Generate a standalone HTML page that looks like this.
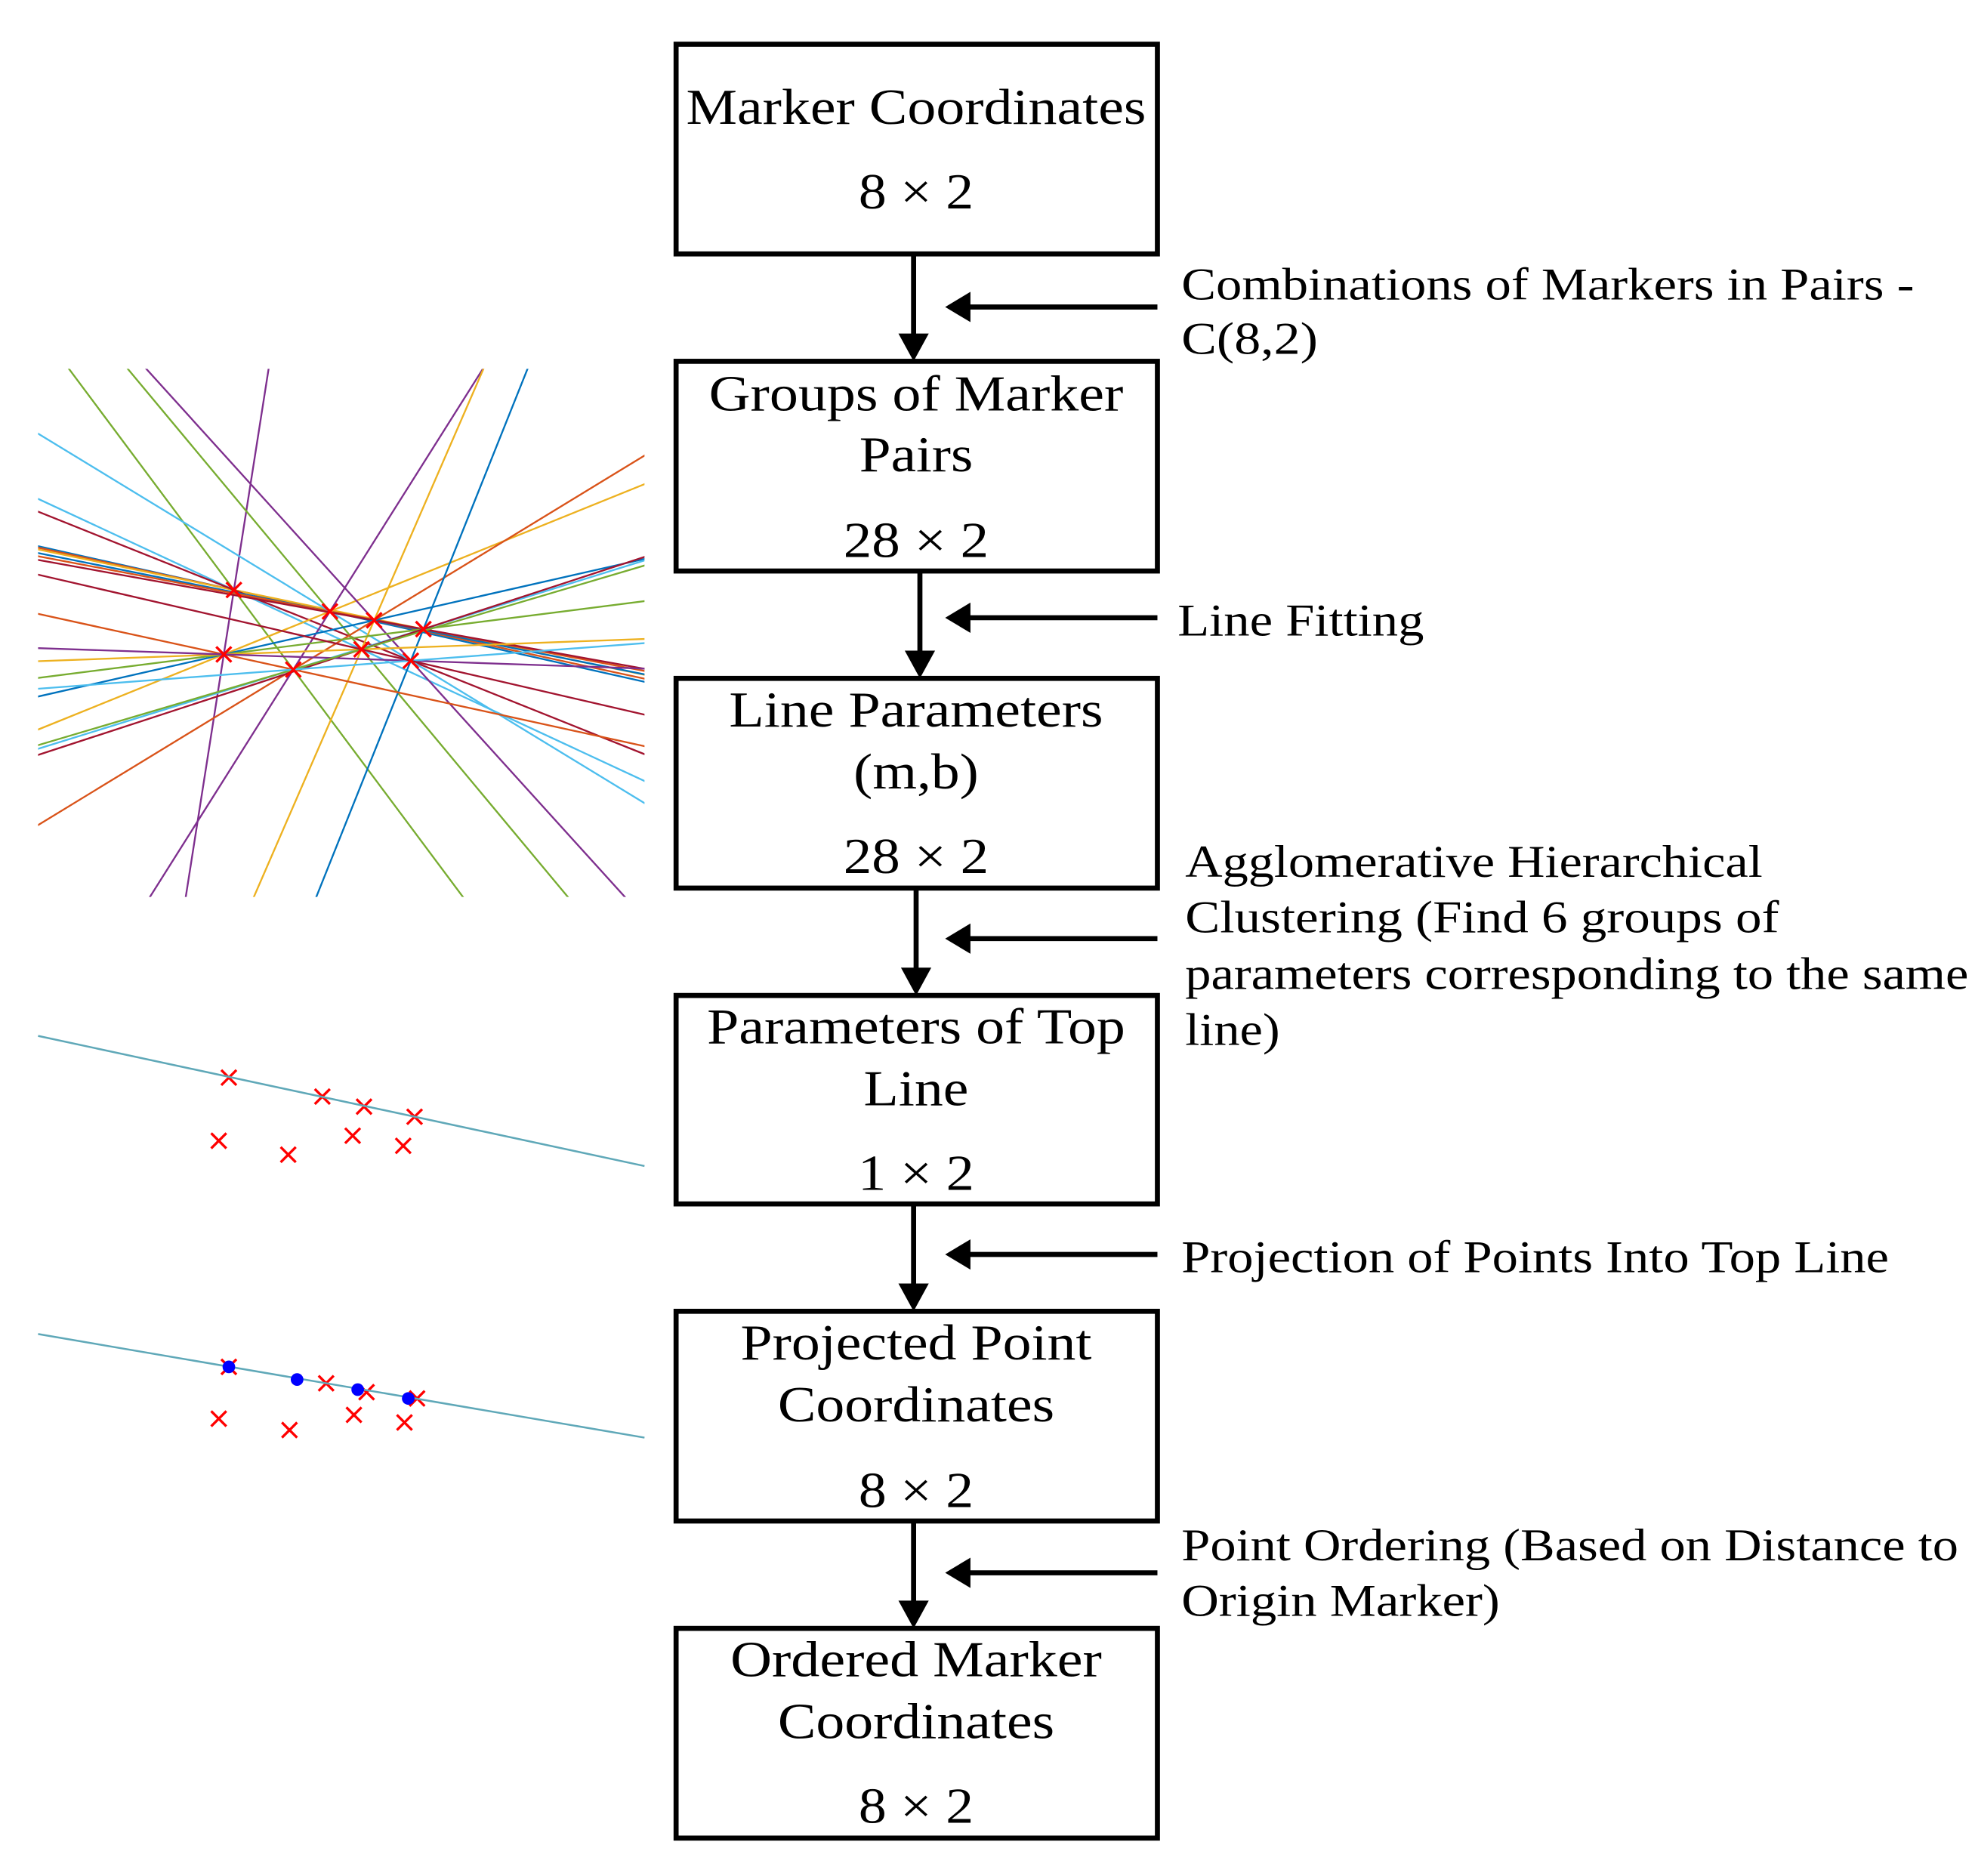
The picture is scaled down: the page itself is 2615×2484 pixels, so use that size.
<!DOCTYPE html>
<html><head><meta charset="utf-8"><style>
html,body{margin:0;padding:0;background:#fff;}
svg{display:block;}
text{font-family:"Liberation Serif","Times New Roman",serif;fill:#000;}
</style></head><body>
<svg id="s" width="2615" height="2484" viewBox="0 0 1563 1485" xmlns="http://www.w3.org/2000/svg">
<defs>
<clipPath id="c1"><rect x="30" y="292" width="480" height="418"/></clipPath>
</defs>
<g id="plot1" clip-path="url(#c1)" stroke-width="1.4" fill="none"></g>
<g id="marks" stroke="#f00" stroke-width="2"></g>

<line x1="30" y1="820" x2="510" y2="923" stroke="#5fa8b8" stroke-width="1.5"/>
<line x1="30" y1="1056" x2="510" y2="1138" stroke="#5fa8b8" stroke-width="1.5"/>
<g id="dots" fill="#00f">
<circle cx="181" cy="1082" r="5"/><circle cx="235" cy="1092" r="5"/><circle cx="283" cy="1100" r="5"/><circle cx="323" cy="1107" r="5"/>
</g>

<g fill="none" stroke="#000" stroke-width="4">
<rect x="535" y="35" width="381" height="166"/>
<rect x="535" y="286" width="381" height="166"/>
<rect x="535" y="537" width="381" height="166"/>
<rect x="535" y="788" width="381" height="165"/>
<rect x="535" y="1038" width="381" height="166"/>
<rect x="535" y="1289" width="381" height="166"/>
</g>
<g stroke="#000" stroke-width="4" fill="#000">
<line x1="723" y1="201" x2="723" y2="266"/><path d="M711,264L735,264L723,286z" stroke="none"/>
<line x1="728" y1="452" x2="728" y2="517"/><path d="M716,515L740,515L728,537z" stroke="none"/>
<line x1="725" y1="703" x2="725" y2="768"/><path d="M713,766L737,766L725,788z" stroke="none"/>
<line x1="723" y1="953" x2="723" y2="1018"/><path d="M711,1016L735,1016L723,1038z" stroke="none"/>
<line x1="723" y1="1204" x2="723" y2="1269"/><path d="M711,1267L735,1267L723,1289z" stroke="none"/>
<line x1="916" y1="243" x2="766" y2="243"/><path d="M768,231L768,255L748,243z" stroke="none"/>
<line x1="916" y1="489" x2="766" y2="489"/><path d="M768,477L768,501L748,489z" stroke="none"/>
<line x1="916" y1="743" x2="766" y2="743"/><path d="M768,731L768,755L748,743z" stroke="none"/>
<line x1="916" y1="993" x2="766" y2="993"/><path d="M768,981L768,1005L748,993z" stroke="none"/>
<line x1="916" y1="1245" x2="766" y2="1245"/><path d="M768,1233L768,1257L748,1245z" stroke="none"/>
</g>

<g font-size="40" text-anchor="middle">
<text x="725" y="98" textLength="364" lengthAdjust="spacingAndGlyphs">Marker Coordinates</text>
<text x="725" y="165" textLength="91" lengthAdjust="spacingAndGlyphs">8 × 2</text>
<text x="725" y="325" textLength="328" lengthAdjust="spacingAndGlyphs">Groups of Marker</text>
<text x="725" y="373" textLength="90" lengthAdjust="spacingAndGlyphs">Pairs</text>
<text x="725" y="441" textLength="115" lengthAdjust="spacingAndGlyphs">28 × 2</text>
<text x="725" y="575" textLength="296" lengthAdjust="spacingAndGlyphs">Line Parameters</text>
<text x="725" y="624" textLength="99" lengthAdjust="spacingAndGlyphs">(m,b)</text>
<text x="725" y="691" textLength="115" lengthAdjust="spacingAndGlyphs">28 × 2</text>
<text x="725" y="826" textLength="331" lengthAdjust="spacingAndGlyphs">Parameters of Top</text>
<text x="725" y="875" textLength="83" lengthAdjust="spacingAndGlyphs">Line</text>
<text x="725" y="942" textLength="92" lengthAdjust="spacingAndGlyphs">1 × 2</text>
<text x="725" y="1076" textLength="278" lengthAdjust="spacingAndGlyphs">Projected Point</text>
<text x="725" y="1125" textLength="219" lengthAdjust="spacingAndGlyphs">Coordinates</text>
<text x="725" y="1193" textLength="91" lengthAdjust="spacingAndGlyphs">8 × 2</text>
<text x="725" y="1327" textLength="294" lengthAdjust="spacingAndGlyphs">Ordered Marker</text>
<text x="725" y="1376" textLength="219" lengthAdjust="spacingAndGlyphs">Coordinates</text>
<text x="725" y="1443" textLength="91" lengthAdjust="spacingAndGlyphs">8 × 2</text>
</g>
<g font-size="36">
<text x="935" y="237" textLength="580" lengthAdjust="spacingAndGlyphs">Combinations of Markers in Pairs -</text>
<text x="935" y="280" textLength="108" lengthAdjust="spacingAndGlyphs">C(8,2)</text>
<text x="932" y="503" textLength="195" lengthAdjust="spacingAndGlyphs">Line Fitting</text>
<text x="938" y="694" textLength="457" lengthAdjust="spacingAndGlyphs">Agglomerative Hierarchical</text>
<text x="938" y="738" textLength="470" lengthAdjust="spacingAndGlyphs">Clustering (Find 6 groups of</text>
<text x="938" y="783" textLength="620" lengthAdjust="spacingAndGlyphs">parameters corresponding to the same</text>
<text x="938" y="827" textLength="75" lengthAdjust="spacingAndGlyphs">line)</text>
<text x="935" y="1007" textLength="560" lengthAdjust="spacingAndGlyphs">Projection of Points Into Top Line</text>
<text x="935" y="1235" textLength="615" lengthAdjust="spacingAndGlyphs">Point Ordering (Based on Distance to</text>
<text x="935" y="1279" textLength="252" lengthAdjust="spacingAndGlyphs">Origin Marker)</text>
</g>
</svg>
<script>
(function(){
var NS="http://www.w3.org/2000/svg";
var pts=[[185,467],[261,484],[296,491],[335,498],[177,518],[232,530],[286,514],[325,523]];
var cols=["#0072BD","#D95319","#EDB120","#7E2F8E","#77AC30","#4DBEEE","#A2142F"];
var g=document.getElementById("plot1"),k=0;
for(var i=0;i<8;i++)for(var j=i+1;j<8;j++){
 var a=pts[i],b=pts[j],dx=b[0]-a[0],dy=b[1]-a[1],L=Math.hypot(dx,dy);dx/=L;dy/=L;
 var l=document.createElementNS(NS,"line");
 l.setAttribute("x1",a[0]-dx*1000);l.setAttribute("y1",a[1]-dy*1000);
 l.setAttribute("x2",a[0]+dx*1000);l.setAttribute("y2",a[1]+dy*1000);
 l.setAttribute("stroke",cols[k%7]);k++;g.appendChild(l);
}
var m=document.getElementById("marks");
function cross(x,y){var p=document.createElementNS(NS,"path");p.setAttribute("d","M"+(x-6)+","+(y-6)+"L"+(x+6)+","+(y+6)+"M"+(x-6)+","+(y+6)+"L"+(x+6)+","+(y-6));m.appendChild(p);}
pts.forEach(function(p){cross(p[0],p[1]);});
[[181,853],[255,868],[288,876],[328,884],[173,903],[228,914],[279,899],[319,907]].forEach(function(p){cross(p[0],p[1]);});
[[181,1082],[258,1095],[290,1102],[330,1107],[173,1123],[229,1132],[280,1120],[320,1126]].forEach(function(p){cross(p[0],p[1]);});
var s=document.getElementById("s");
s.appendChild(document.getElementById("dots"));
})();
</script>
</body></html>
